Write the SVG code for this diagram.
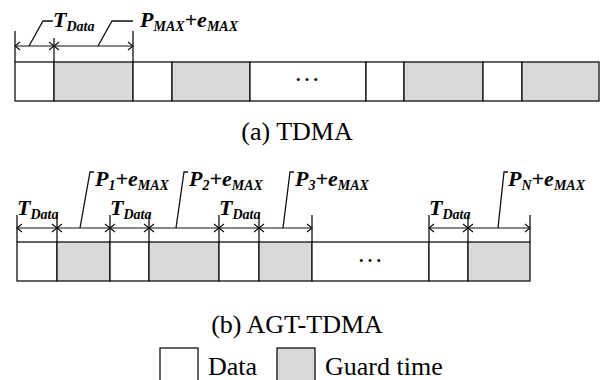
<svg xmlns="http://www.w3.org/2000/svg" width="602" height="380" viewBox="0 0 602 380">
<style>
.w{fill:#ffffff;stroke:#111;stroke-width:1.3}
.g{fill:#d9d9d9;stroke:#111;stroke-width:1.3}
.ln{stroke:#111;stroke-width:1.3;fill:none}
.dim{stroke:#111;stroke-width:1.2;fill:none;marker-start:url(#ah);marker-end:url(#ah)}
.lbl{font-family:"Liberation Serif","Times New Roman",serif;font-weight:bold;font-style:italic;font-size:22px;fill:#000}
.sub{font-size:14px}
.cap{font-family:"Liberation Serif","Times New Roman",serif;font-size:26px;fill:#000}
</style>
<defs>
<marker id="ah" markerWidth="10" markerHeight="10" refX="6" refY="5" orient="auto-start-reverse" markerUnits="userSpaceOnUse">
<path d="M1,1 L6,5 L1,9" fill="none" stroke="#111" stroke-width="1.2"/>
</marker>
</defs>

<g id="tdma">
<g id="tdma-slots">
<rect class="w" x="15" y="62" width="39" height="39"/>
<rect class="g" x="54" y="62" width="79" height="39"/>
<rect class="w" x="133" y="62" width="39" height="39"/>
<rect class="g" x="172" y="62" width="78" height="39"/>
<rect class="w" x="250" y="62" width="116" height="39"/>
<rect class="w" x="366" y="62" width="38" height="39"/>
<rect class="g" x="404" y="62" width="79" height="39"/>
<rect class="w" x="483" y="62" width="39" height="39"/>
<rect class="g" x="522" y="62" width="77" height="39"/>
<text class="cap" x="307" y="81" text-anchor="middle" font-size="30">…</text>
</g>
<g id="tdma-dims">
<line class="ln" x1="15" y1="31" x2="15" y2="62"/>
<line class="ln" x1="54" y1="38" x2="54" y2="62"/>
<line class="ln" x1="133" y1="31" x2="133" y2="62"/>
<line class="dim" x1="15" y1="46" x2="54" y2="46"/>
<line class="dim" x1="54" y1="46" x2="133" y2="46"/>
<polyline class="ln" points="29,46 43,21 53,21"/>
<polyline class="ln" points="98,46 112,21 133,21"/>
</g>
<text id="tdma-t" class="lbl" x="53" y="27">T<tspan class="sub" dy="4">Data</tspan></text>
<text id="tdma-p" class="lbl" x="140" y="27">P<tspan class="sub" dy="4">MAX</tspan><tspan dy="-4">+e</tspan><tspan class="sub" dy="4">MAX</tspan></text>
<text id="cap-a" class="cap" x="297" y="140" text-anchor="middle">(a) TDMA</text>
</g>

<g id="agt">
<g id="agt-slots">
<rect class="w" x="17" y="242" width="40" height="39"/>
<rect class="g" x="57" y="242" width="53" height="39"/>
<rect class="w" x="110" y="242" width="39" height="39"/>
<rect class="g" x="149" y="242" width="70" height="39"/>
<rect class="w" x="219" y="242" width="40" height="39"/>
<rect class="g" x="259" y="242" width="53" height="39"/>
<rect class="w" x="312" y="242" width="117" height="39"/>
<rect class="w" x="429" y="242" width="39" height="39"/>
<rect class="g" x="468" y="242" width="62" height="39"/>
<text class="cap" x="370" y="262" text-anchor="middle" font-size="30">…</text>
</g>
<g id="agt-dims">
<line class="ln" x1="17" y1="215" x2="17" y2="242"/>
<line class="ln" x1="57" y1="215" x2="57" y2="242"/>
<line class="ln" x1="110" y1="215" x2="110" y2="242"/>
<line class="ln" x1="149" y1="215" x2="149" y2="242"/>
<line class="ln" x1="219" y1="215" x2="219" y2="242"/>
<line class="ln" x1="259" y1="215" x2="259" y2="242"/>
<line class="ln" x1="312" y1="215" x2="312" y2="242"/>
<line class="ln" x1="429" y1="215" x2="429" y2="242"/>
<line class="ln" x1="468" y1="215" x2="468" y2="242"/>
<line class="ln" x1="530" y1="215" x2="530" y2="242"/>
<line class="dim" x1="17" y1="228" x2="57" y2="228"/>
<line class="dim" x1="57" y1="228" x2="110" y2="228"/>
<line class="dim" x1="110" y1="228" x2="149" y2="228"/>
<line class="dim" x1="149" y1="228" x2="219" y2="228"/>
<line class="dim" x1="219" y1="228" x2="259" y2="228"/>
<line class="dim" x1="259" y1="228" x2="312" y2="228"/>
<line class="dim" x1="429" y1="228" x2="468" y2="228"/>
<line class="dim" x1="468" y1="228" x2="530" y2="228"/>
<polyline class="ln" points="80,228 90,172 94,172"/>
<polyline class="ln" points="176,228 184,172 188,172"/>
<polyline class="ln" points="283,228 290,172 294,172"/>
<polyline class="ln" points="498,228 504,172 508,172"/>
</g>
<text id="agt-t1" class="lbl" x="17" y="215">T<tspan class="sub" dy="4">Data</tspan></text>
<text id="agt-t2" class="lbl" x="110" y="215">T<tspan class="sub" dy="4">Data</tspan></text>
<text id="agt-t3" class="lbl" x="219" y="215">T<tspan class="sub" dy="4">Data</tspan></text>
<text id="agt-t4" class="lbl" x="429" y="215">T<tspan class="sub" dy="4">Data</tspan></text>
<text id="agt-p1" class="lbl" x="95" y="186">P<tspan class="sub" dy="4">1</tspan><tspan dy="-4">+e</tspan><tspan class="sub" dy="4">MAX</tspan></text>
<text id="agt-p2" class="lbl" x="189" y="186">P<tspan class="sub" dy="4">2</tspan><tspan dy="-4">+e</tspan><tspan class="sub" dy="4">MAX</tspan></text>
<text id="agt-p3" class="lbl" x="295" y="186">P<tspan class="sub" dy="4">3</tspan><tspan dy="-4">+e</tspan><tspan class="sub" dy="4">MAX</tspan></text>
<text id="agt-pn" class="lbl" x="508" y="186">P<tspan class="sub" dy="4">N</tspan><tspan dy="-4">+e</tspan><tspan class="sub" dy="4">MAX</tspan></text>
<text id="cap-b" class="cap" x="297" y="333" text-anchor="middle">(b) AGT-TDMA</text>
</g>

<g id="legend">
<g id="legend-data">
<rect class="w" x="160" y="348" width="38" height="40"/>
<text class="cap" x="208" y="375">Data</text>
</g>
<g id="legend-guard">
<rect class="g" x="277" y="348" width="38" height="40"/>
<text class="cap" x="325" y="375">Guard time</text>
</g>
</g>
</svg>
